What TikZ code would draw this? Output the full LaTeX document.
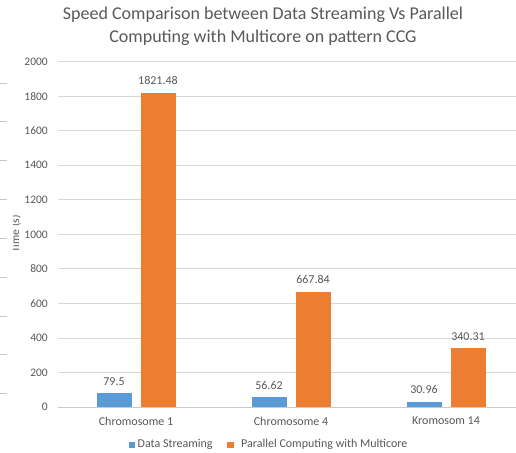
\documentclass[tikz,border=0pt]{standalone}
\usepackage{fontspec}
\setmainfont{Carlito}
\definecolor{txt}{HTML}{595959}
\definecolor{grid}{HTML}{D9D9D9}
\definecolor{bblue}{HTML}{5B9BD5}
\definecolor{borange}{HTML}{ED7D31}
\begin{document}
\begin{tikzpicture}[x=1pt,y=-1pt,
  gridline/.style={grid, line width=0.8pt},
  ticklbl/.style={text=txt, font=\fontsize{11.5}{12}\selectfont, anchor=east, inner sep=0pt},
  vallbl/.style={text=txt, font=\fontsize{12}{13}\selectfont, anchor=mid, inner sep=0pt},
  catlbl/.style={text=txt, font=\fontsize{12}{13}\selectfont, inner sep=0pt},
  barA/.style={fill=bblue, draw=none},
  barB/.style={fill=borange, draw=none}]
\useasboundingbox (0,0) rectangle (516,452);
\fill[white] (0,0) rectangle (516,452);
% title
\node[text=txt, font=\fontsize{18}{23}\selectfont, align=center] (title) at (263,26)
  {Speed Comparison between Data Streaming Vs Parallel\\Computing with Multicore on pattern CCG};
% left edge ticks
\foreach \yy [count=\i] in {83,121.5,160.5,199.5,238.5,277.5,316,354.5,393.5}
  \draw[grid!80!gray, line width=0.8pt] (0,\yy) -- (7,\yy);
% y axis label (clipped at the left edge, as in the reference)
\begin{scope}
\clip (13.2,150) rectangle (30,320);
\node[rotate=90, text=txt, font=\fontsize{11.5}{12}\selectfont, inner sep=0pt, anchor=base] (ylab) at (19,234) {Time (s)};
\end{scope}
% gridlines and tick labels
\foreach \v in {200,400,...,2000}
  \draw[gridline] (58,{407-\v*0.17265}) -- (516,{407-\v*0.17265});
\foreach \v in {0,200,...,2000}
  \node[ticklbl] (t\v) at (48,{407-\v*0.17265}) {\v};
% bars
\foreach \c/\a/\b/\la/\lb [count=\k] in {136/79.5/1821.48/79.5/1821.48, 291/56.62/667.84/56.62/667.84, 446/30.96/340.31/30.96/340.31} {
  \fill[barA] (\c-39.5,407) rectangle (\c-4.5,{407-\a*0.17265});
  \fill[barB] (\c+4.5,407) rectangle (\c+39.5,{407-\b*0.17265});
  \node[vallbl] (va\k) at (\c-22,{407-\a*0.17265-10.5}) {\la};
  \node[vallbl] (vb\k) at (\c+22,{407-\b*0.17265-10.5}) {\lb};
}
\draw[grid!85!gray, line width=0.8pt] (58,407) -- (516,407);
% category labels
\node[catlbl] (c1) at (136,421) {Chromosome 1};
\node[catlbl] (c2) at (291,421) {Chromosome 4};
\node[catlbl] (c3) at (446,421) {Kromosom 14};
% legend
\fill[bblue] (128.5,441.5) rectangle (135,448);
\node[catlbl, anchor=west] (l1) at (137.5,444.5) {Data Streaming};
\fill[borange] (227,441.5) rectangle (233.5,448);
\node[catlbl, anchor=west] (l2) at (241,444.5) {Parallel Computing with Multicore};
\end{tikzpicture}
\end{document}
